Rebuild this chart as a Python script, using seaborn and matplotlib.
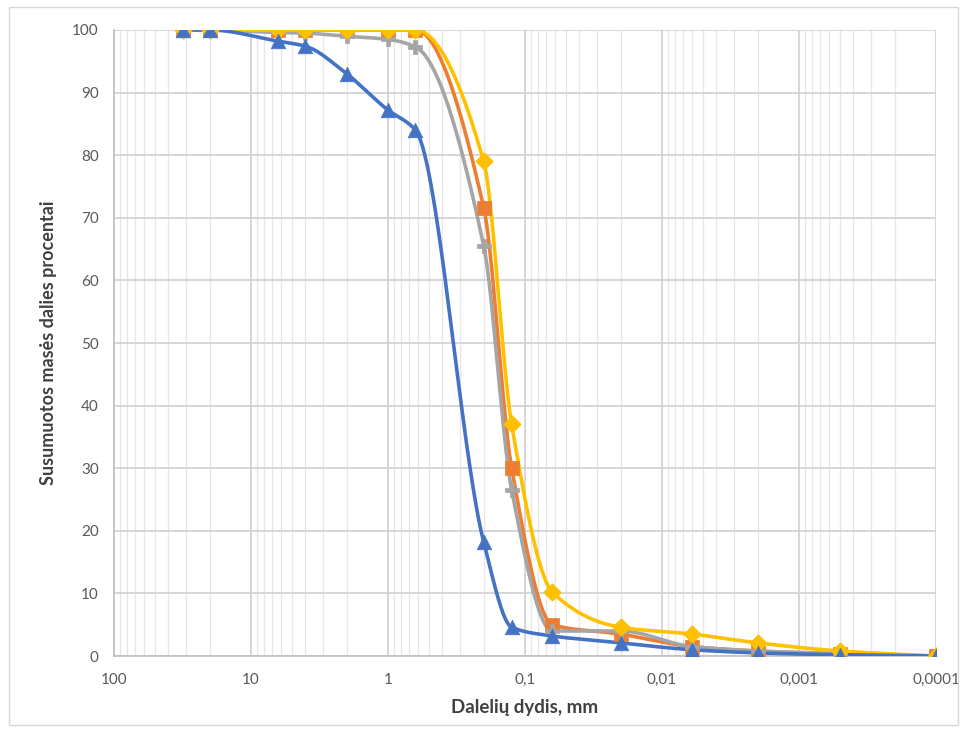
import numpy as np
import pandas as pd
import matplotlib
matplotlib.use("Agg")
import matplotlib.pyplot as plt
import matplotlib.ticker as mticker
from matplotlib.patches import Rectangle
import seaborn as sns

# ---- data ----
sizes = [31.5, 20, 6.3, 4.0, 2.0, 1.0, 0.63, 0.2, 0.125, 0.063, 0.02, 0.006, 0.002, 0.0005, 0.0001]
blue = [100, 100, 98.2, 97.4, 93.0, 87.2, 84.0, 18.2, 4.6, 3.2, 2.1, 1.0, 0.5, 0.2, 0.0]
orange = [100, 100, 100, 100, 100, 100, 100, 71.6, 30.0, 5.0, 3.5, 1.5, 0.8, 0.3, 0.0]
gray = [100, 100, 99.6, 99.5, 99.0, 98.5, 97.3, 65.5, 26.5, 4.0, 4.0, 1.5, 0.8, 0.4, 0.0]
yellow = [100, 100, 100, 100, 100, 100, 100, 79.0, 37.0, 10.2, 4.6, 3.5, 2.1, 0.8, 0.0]

series_names = ["orange", "gray", "yellow", "blue"]
series_values = [orange, gray, yellow, blue]
colors = {"blue": "#4472C4", "orange": "#ED7D31", "gray": "#A5A5A5", "yellow": "#FFC000"}
markers = {"blue": "^", "orange": "s", "gray": "P", "yellow": "D"}
xticks = [100, 10, 1, 0.1, 0.01, 0.001, 0.0001]
xtick_labels = ["100", "10", "1", "0,1", "0,01", "0,001", "0,0001"]


def smooth(xs, ys, n=40):
    """Monotone cubic (Fritsch-Carlson) curve through the points, in log-x space."""
    u = np.log10(np.asarray(xs, float))
    y = np.asarray(ys, float)
    order = np.argsort(u)
    u, y = u[order], y[order]
    h = np.diff(u)
    d = np.diff(y) / h
    m = np.zeros_like(y)
    m[0], m[-1] = d[0], d[-1]
    for k in range(1, len(y) - 1):
        if d[k - 1] * d[k] <= 0:
            m[k] = 0.0
        else:
            w1 = 2 * h[k] + h[k - 1]
            w2 = h[k] + 2 * h[k - 1]
            m[k] = (w1 + w2) / (w1 / d[k - 1] + w2 / d[k])
    us, ysm = [], []
    for k in range(len(h)):
        t = np.linspace(0, 1, n)
        if k > 0:
            t = t[1:]
        h00 = 2 * t**3 - 3 * t**2 + 1
        h10 = t**3 - 2 * t**2 + t
        h01 = -2 * t**3 + 3 * t**2
        h11 = t**3 - t**2
        us.append(u[k] + t * h[k])
        ysm.append(h00 * y[k] + h10 * h[k] * m[k] + h01 * y[k + 1] + h11 * h[k] * m[k + 1])
    return 10 ** np.concatenate(us), np.concatenate(ysm)


sns.set_theme(style="white")
plt.rcParams["font.family"] = ["Lato", "DejaVu Sans"]

fig = plt.figure(figsize=(9.69, 7.46), dpi=100)
ax = fig.add_axes([0.1176, 0.1206, 0.8483, 0.8392])

for name, vals in zip(series_names, series_values):
    sx, sy = smooth(sizes, vals)
    line_df = pd.DataFrame({"x": sx, "y": sy})
    sns.lineplot(data=line_df, x="x", y="y", ax=ax, color=colors[name], linewidth=2.6,
                 sort=False, estimator=None, zorder=3)
    pt_df = pd.DataFrame({"x": sizes, "y": vals})
    sns.scatterplot(data=pt_df, x="x", y="y", ax=ax, color=colors[name], marker=markers[name],
                    s=110 if name != "yellow" else 80, edgecolor=colors[name], linewidth=0.5, zorder=4)

ax.set_xscale("log")
ax.set_xlim(100, 0.0001)
ax.set_ylim(0, 100)
ax.set_yticks(range(0, 101, 10))
ax.xaxis.set_major_locator(mticker.FixedLocator(xticks))
ax.xaxis.set_major_formatter(mticker.FixedFormatter(xtick_labels))
ax.xaxis.set_minor_locator(mticker.LogLocator(base=10, subs=np.arange(2, 10), numticks=20))
ax.xaxis.set_minor_formatter(mticker.NullFormatter())

ax.grid(True, which="major", axis="both", color="#D0D0D0", linewidth=1.2, zorder=0)
ax.grid(True, which="minor", axis="x", color="#E6E6E6", linewidth=0.9, zorder=0)
ax.set_axisbelow(True)

for s in ["top", "right"]:
    ax.spines[s].set_visible(False)
for s in ["left", "bottom"]:
    ax.spines[s].set_color("#BFBFBF")
    ax.spines[s].set_linewidth(1.2)

ax.tick_params(axis="both", which="both", length=0, labelsize=11, labelcolor="#595959")
ax.tick_params(axis="y", pad=11)
ax.tick_params(axis="x", pad=12)
ax.set_xlabel("Dalelių dydis, mm", fontsize=13.5, fontweight="bold", color="#404040", labelpad=9)
ax.set_ylabel("Susumuotos masės dalies procentai", fontsize=13, fontweight="bold", color="#404040", labelpad=11)

fig.patches.append(Rectangle((0.009, 0.028), 0.98, 0.962, transform=fig.transFigure,
                             fill=False, edgecolor="#D9D9D9", linewidth=1.0))

fig.savefig("out.png", dpi=100)
